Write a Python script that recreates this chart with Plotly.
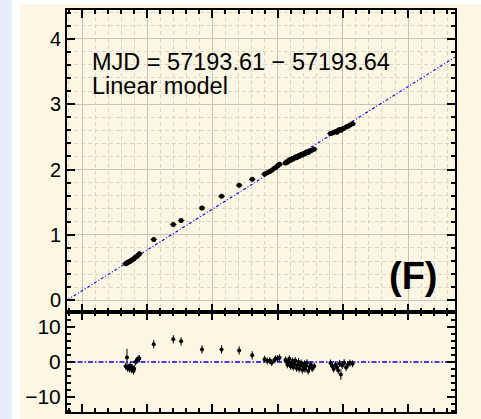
import plotly.graph_objects as go

# ---- data -----------------------------------------------------------------
# flux-flux points (x, y) with their uncertainties
x_flux = [
    0.67, 0.69, 0.70, 0.72, 0.73, 0.74, 0.76, 0.77, 0.79, 0.80, 0.82, 0.84, 0.86, 0.88,
    1.10, 1.40, 1.52, 1.84, 2.14, 2.41, 2.61,
    2.80, 2.84, 2.88, 2.91, 2.95, 2.97, 3.00, 3.03,
    3.12, 3.14, 3.15, 3.17, 3.18, 3.20, 3.21, 3.23, 3.24, 3.26, 3.27, 3.29, 3.30, 3.32,
    3.33, 3.35, 3.36, 3.38, 3.39, 3.41, 3.42, 3.44, 3.45, 3.47, 3.49, 3.51, 3.53, 3.56,
    3.81, 3.84, 3.86, 3.89, 3.91, 3.93, 3.95, 3.97, 3.99, 4.02, 4.05, 4.08, 4.11, 4.15,
]
y_flux = [
    0.56, 0.57, 0.58, 0.59, 0.59, 0.60, 0.61, 0.62, 0.63, 0.64, 0.66, 0.67, 0.69, 0.71,
    0.93, 1.16, 1.22, 1.41, 1.59, 1.76, 1.85,
    1.93, 1.95, 1.97, 1.99, 2.02, 2.03, 2.06, 2.08,
    2.10, 2.12, 2.11, 2.13, 2.15, 2.14, 2.16, 2.17, 2.16, 2.18, 2.19, 2.18, 2.20, 2.21,
    2.20, 2.22, 2.23, 2.22, 2.24, 2.25, 2.24, 2.26, 2.27, 2.26, 2.28, 2.29, 2.30, 2.31,
    2.55, 2.56, 2.57, 2.58, 2.57, 2.60, 2.61, 2.60, 2.62, 2.63, 2.65, 2.66, 2.68, 2.70,
]
x_flux_err = [0.05] * len(x_flux)
y_flux_err = [0.035] * len(y_flux)

# residuals of the linear fit
resid = [
    -1.2, 1.3, -1.8, -1.5, -2.0, -1.0, -2.2, -1.6, -2.6, -1.9, 0.0, 0.4, 0.9, 1.0,
    5.1, 6.5, 5.9, 3.6, 3.6, 3.3, 1.9,
    0.8, 0.3, 0.4, -0.2, 0.6, 0.9, 1.0, 1.2,
    0.6, 0.2, -0.8, -0.3, 0.9, -1.2, -0.4, 0.3, -1.5, -0.6, 0.4, -1.8, -0.9, 0.1,
    -2.0, -1.1, -0.3, -2.3, -1.3, -0.5, -2.1, -1.0, -0.2, -2.6, -1.4, -0.8, -1.9, -1.2,
    -0.3, -1.2, -2.0, -0.8, -1.5, -2.4, -0.4, -3.6, -1.0, -0.2, -1.6, -0.7, -0.3, -0.5,
]
resid_err = [
    1.0, 2.5, 1.0, 1.0, 1.0, 1.0, 1.0, 1.0, 1.0, 1.0, 1.0, 1.0, 1.0, 1.0,
    1.2, 1.2, 1.2, 1.2, 1.2, 1.2, 1.2,
    1.0, 1.0, 1.0, 1.0, 1.0, 1.0, 1.0, 1.0,
    1.0, 1.0, 1.0, 1.0, 1.0, 1.0, 1.0, 1.0, 1.0, 1.0, 1.0, 1.0, 1.0, 1.0,
    1.0, 1.0, 1.0, 1.0, 1.0, 1.0, 1.0, 1.0, 1.0, 1.0, 1.0, 1.0, 1.0, 1.0,
    1.0, 1.0, 1.0, 1.0, 1.0, 1.0, 1.0, 1.5, 1.0, 1.0, 1.0, 1.0, 1.0, 1.0,
]

# linear model y = intercept + slope * x
fit_intercept = 0.144
fit_slope = 0.625

x_ticks = [0, 1, 2, 3, 4, 5]
y_ticks = [0, 1, 2, 3, 4]
resid_ticks = [-10, 0, 10]

x_range = [-0.23, 5.72]
y_range = [-0.18, 4.44]
resid_range = [-14.3, 14.3]

title_line1 = "MJD = 57193.61 \u2212 57193.64"
title_line2 = "Linear model"
panel_tag = "<b>(F)</b>"

# ---- styling --------------------------------------------------------------
W, H = 481, 419
ML, MR, MT, MB = 67, 26, 10, 7
PW, PH = W - ML - MR, H - MT - MB
split = (412 - 312) / PH          # boundary between fit panel and residual panel

CREAM = "#fdf6e3"
BLUE_STRIP = "#e6eefa"
LINE_BLUE = "#0000ff"
FONT = "Liberation Sans"


def px_x(p):
    return (p - ML) / PW


def px_y(p):
    return (H - MB - p) / PH


model_x = x_range
model_y = [fit_intercept + fit_slope * v for v in model_x]

fig = go.Figure()

fig.add_trace(go.Scatter(
    x=model_x, y=model_y, mode="lines",
    line=dict(color=LINE_BLUE, width=1.1, dash="3px,2px,1px,2px"),
    xaxis="x", yaxis="y", hoverinfo="skip", showlegend=False,
))
fig.add_trace(go.Scatter(
    x=x_flux, y=y_flux, mode="markers",
    marker=dict(color="black", size=5),
    error_x=dict(type="data", array=x_flux_err, color="black", thickness=1, width=0),
    error_y=dict(type="data", array=y_flux_err, color="black", thickness=1, width=0),
    xaxis="x", yaxis="y", showlegend=False,
))
fig.add_trace(go.Scatter(
    x=x_range, y=[0, 0], mode="lines",
    line=dict(color=LINE_BLUE, width=1.5, dash="5px,2px,1.5px,2px"),
    xaxis="x2", yaxis="y2", hoverinfo="skip", showlegend=False,
))
fig.add_trace(go.Scatter(
    x=x_flux, y=resid, mode="markers",
    marker=dict(color="black", size=4),
    error_y=dict(type="data", array=resid_err, color="black", thickness=1, width=0),
    xaxis="x2", yaxis="y2", showlegend=False,
))

axis_common = dict(
    showline=True, linecolor="black", linewidth=2, mirror="allticks",
    ticks="inside", ticklen=8, tickwidth=1.5, tickcolor="black",
    zeroline=False, automargin=False,
)
grid_major = dict(showgrid=True, gridcolor="#c6c3ba", gridwidth=1)
minor_grid = dict(dtick=0.2, tick0=0, ticks="inside", ticklen=4, tickcolor="black",
                  showgrid=True, gridcolor="#d9d5c8", griddash="4px,3px", gridwidth=1)

fig.update_layout(
    width=W, height=H,
    margin=dict(l=ML, r=MR, t=MT, b=MB, pad=0, autoexpand=False),
    paper_bgcolor="white", plot_bgcolor=CREAM,
    font=dict(family=FONT, color="black"),
    xaxis=dict(
        domain=[0, 1], anchor="y", range=x_range, tickvals=x_ticks,
        showticklabels=False, **grid_major, **axis_common, minor=minor_grid,
    ),
    yaxis=dict(
        domain=[split, 1], anchor="x", range=y_range, tickvals=y_ticks,
        tickfont=dict(family=FONT, size=20, color="black"),
        **grid_major, **axis_common, minor=minor_grid,
    ),
    xaxis2=dict(
        domain=[0, 1], anchor="y2", range=x_range, tickvals=x_ticks,
        tickfont=dict(family=FONT, size=20, color="black"),
        showgrid=False, **axis_common,
        minor=dict(dtick=0.2, tick0=0, ticks="inside", ticklen=4, tickcolor="black",
                   showgrid=False),
    ),
    yaxis2=dict(
        domain=[0, split], anchor="x2", range=resid_range, tickvals=resid_ticks,
        tickfont=dict(family=FONT, size=21, color="black"),
        showgrid=False, **axis_common,
        minor=dict(dtick=2, tick0=0, ticks="inside", ticklen=4, tickcolor="black",
                   showgrid=False),
    ),
    shapes=[
        dict(type="rect", xref="paper", yref="paper", layer="below",
             x0=px_x(0), x1=px_x(12), y0=px_y(H + 2), y1=px_y(-2),
             fillcolor=BLUE_STRIP, line=dict(width=0)),
        dict(type="rect", xref="paper", yref="paper", layer="below",
             x0=px_x(20), x1=px_x(W + 2), y0=px_y(H + 2), y1=px_y(4),
             fillcolor=CREAM, line=dict(width=0)),
    ],
    annotations=[
        dict(text=title_line1, xref="paper", yref="paper", x=px_x(90), y=px_y(62),
             xanchor="left", yanchor="middle", showarrow=False,
             font=dict(family=FONT, size=23.5, color="black")),
        dict(text=title_line2, xref="paper", yref="paper", x=px_x(90), y=px_y(86),
             xanchor="left", yanchor="middle", showarrow=False,
             font=dict(family=FONT, size=23.5, color="black")),
        dict(text=panel_tag, xref="paper", yref="paper", x=px_x(413), y=px_y(276),
             xanchor="center", yanchor="middle", showarrow=False,
             font=dict(family=FONT, size=38, color="black")),
    ],
)

fig.write_html("out.html", config={"displayModeBar": False})
